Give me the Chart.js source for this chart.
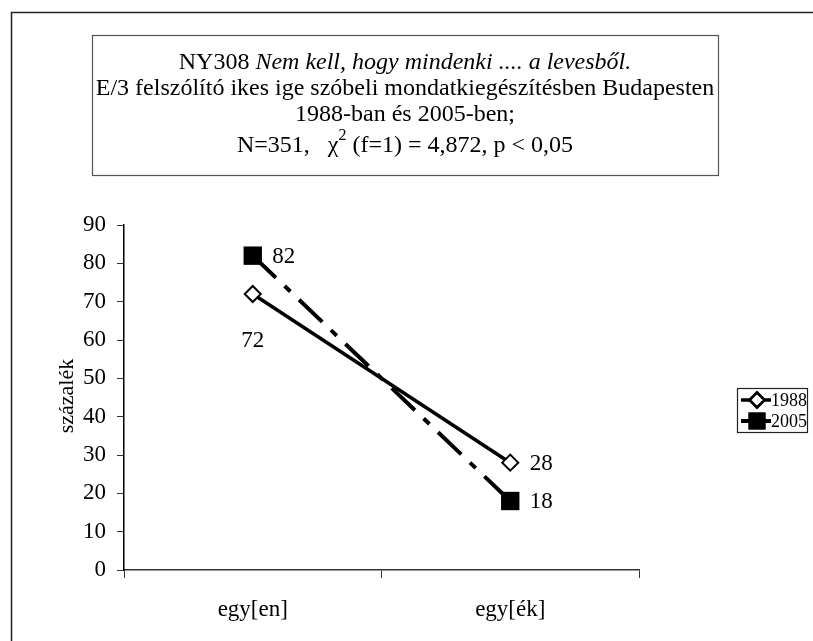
<!DOCTYPE html>
<html>
<head>
<meta charset="utf-8">
<script src="https://cdn.jsdelivr.net/npm/chart.js@4.4.0/dist/chart.umd.min.js"></script>
<style>
  body { margin: 0; background: #fff; }
  canvas { display: block; }
</style>
</head>
<body>
<canvas id="myChart" width="813" height="641"></canvas>
<script>
// adatok
const categories = ["egy[en]", "egy[ék]"];
const seriesNames = ["1988", "2005"];
const values1988 = [72, 28];
const values2005 = [82, 18];
const yTicks = [0, 10, 20, 30, 40, 50, 60, 70, 80, 90];

const titleLines = [
  [["NY308 ", ""], ["Nem kell, hogy mindenki .... a levesből.", "italic "]],
  [["E/3 felszólító ikes ige szóbeli mondatkiegészítésben Budapesten", ""]],
  [["1988-ban és 2005-ben;", ""]],
];
const FONT = "'Liberation Serif', 'Times New Roman', serif";
const TS = 24; // cím betűméret

// keret + cím doboz
const frame = {
  id: "frame",
  beforeDraw(chart) {
    const c = chart.ctx;
    c.save();
    c.fillStyle = "#fff";
    c.fillRect(0, 0, chart.width, chart.height);
    c.strokeStyle = "#222";
    c.lineWidth = 1.5;
    c.strokeRect(11.5, 12.5, 900, 700);
    c.strokeStyle = "#555";
    c.lineWidth = 1.2;
    c.strokeRect(92.5, 35.5, 626, 140);
    c.fillStyle = "#000";
    c.textBaseline = "middle";
    const ys = [63, 89, 115];
    titleLines.forEach((parts, i) => {
      let w = 0;
      parts.forEach(p => { c.font = p[1] + TS + "px " + FONT; w += c.measureText(p[0]).width; });
      let x = 405 - w / 2;
      parts.forEach(p => {
        c.font = p[1] + TS + "px " + FONT;
        c.textAlign = "left";
        c.fillText(p[0], x, ys[i]);
        x += c.measureText(p[0]).width;
      });
    });
    // utolsó sor, felső indexszel
    const a = "N=351,   χ", sup = "2", b = " (f=1) = 4,872, p < 0,05";
    c.font = TS + "px " + FONT;
    const wa = c.measureText(a).width, wb = c.measureText(b).width;
    c.font = "16px " + FONT;
    const ws = c.measureText(sup).width;
    let x = 405 - (wa + ws + wb) / 2;
    c.font = TS + "px " + FONT;
    c.fillText(a, x, 146);
    c.font = "16px " + FONT;
    c.fillText(sup, x + wa, 136);
    c.font = TS + "px " + FONT;
    c.fillText(b, x + wa + ws, 146);
    // y tengely felirat
    c.translate(67, 396);
    c.rotate(-Math.PI / 2);
    c.textAlign = "center";
    c.font = "22px " + FONT;
    c.fillText("százalék", 0, 0);
    c.restore();
  },
  afterDatasetsDraw(chart) {
    const c = chart.ctx;
    c.save();
    c.fillStyle = "#000";
    c.font = "23px " + FONT;
    c.textBaseline = "middle";
    c.textAlign = "center";
    chart.data.datasets.forEach((ds, i) => {
      chart.getDatasetMeta(i).data.forEach((pt, j) => {
        const below = i === 0 && j === 0;
        c.fillText(ds.data[j], pt.x + (below ? 0 : 31), pt.y + (below ? 47 : 1));
      });
    });
    // jelmagyarázat
    c.strokeStyle = "#222";
    c.lineWidth = 1.2;
    c.strokeRect(737.5, 388.5, 70, 44);
    c.textAlign = "left";
    chart.data.datasets.forEach((ds, i) => {
      const y = 400 + i * 21;
      c.strokeStyle = "#000";
      c.lineWidth = ds.borderWidth;
      c.setLineDash(ds.borderDash ? [10, 5, 4, 5] : []);
      c.beginPath();
      c.moveTo(741, y);
      c.lineTo(771, y);
      c.stroke();
      c.setLineDash([]);
      Chart.helpers.drawPoint(c, {
        pointStyle: ds.pointStyle, radius: ds.pointRadius - 1, borderWidth: ds.pointBorderWidth
      }, 757, y);
      c.fillStyle = ds.pointBackgroundColor;
      c.strokeStyle = "#000";
      c.lineWidth = ds.pointBorderWidth;
      c.fill();
      if (ds.pointBorderWidth) c.stroke();
      c.fillStyle = "#000";
      c.font = "18px " + FONT;
      c.fillText(ds.label, 771, y + 1);
    });
    c.restore();
  }
};

const ctx = document.getElementById("myChart").getContext("2d");
const myChart = new Chart(ctx, {
  type: "line",
  data: {
    labels: categories,
    datasets: [
      {
        label: seriesNames[0],
        data: values1988,
        borderColor: "#000",
        borderWidth: 3.5,
        pointStyle: "rectRot",
        pointRadius: 8,
        pointBackgroundColor: "#fff",
        pointBorderColor: "#000",
        pointBorderWidth: 2,
      },
      {
        label: seriesNames[1],
        data: values2005,
        borderColor: "#000",
        borderWidth: 4,
        borderDash: [32, 12, 8, 12],
        pointStyle: "rect",
        pointRadius: 13,
        pointBackgroundColor: "#000",
        pointBorderColor: "#000",
        pointBorderWidth: 0,
      },
    ],
  },
  options: {
    responsive: false,
    devicePixelRatio: 1,
    animation: false,
    layout: { padding: { top: 225, right: 174, bottom: 0, left: 0 } },
    plugins: { legend: { display: false }, title: { display: false }, tooltip: { enabled: false } },
    scales: {
      x: {
        offset: true,
        grid: { drawOnChartArea: false, offset: true, tickLength: 8, color: "#333" },
        border: { color: "#333", width: 1.5 },
        ticks: { color: "#000", font: { family: FONT, size: 23 }, padding: 18 },
        afterFit: s => { s.height = 71; },
      },
      y: {
        min: 0,
        max: 90,
        afterBuildTicks: s => { s.ticks = yTicks.map(v => ({ value: v })); },
        grid: { drawOnChartArea: false, tickLength: 7, color: "#333" },
        border: { color: "#000", width: 1.5 },
        ticks: { color: "#000", font: { family: FONT, size: 23 }, padding: 11 },
        afterFit: s => { s.width = 124; },
      },
    },
  },
  plugins: [frame],
});
</script>
</body>
</html>
